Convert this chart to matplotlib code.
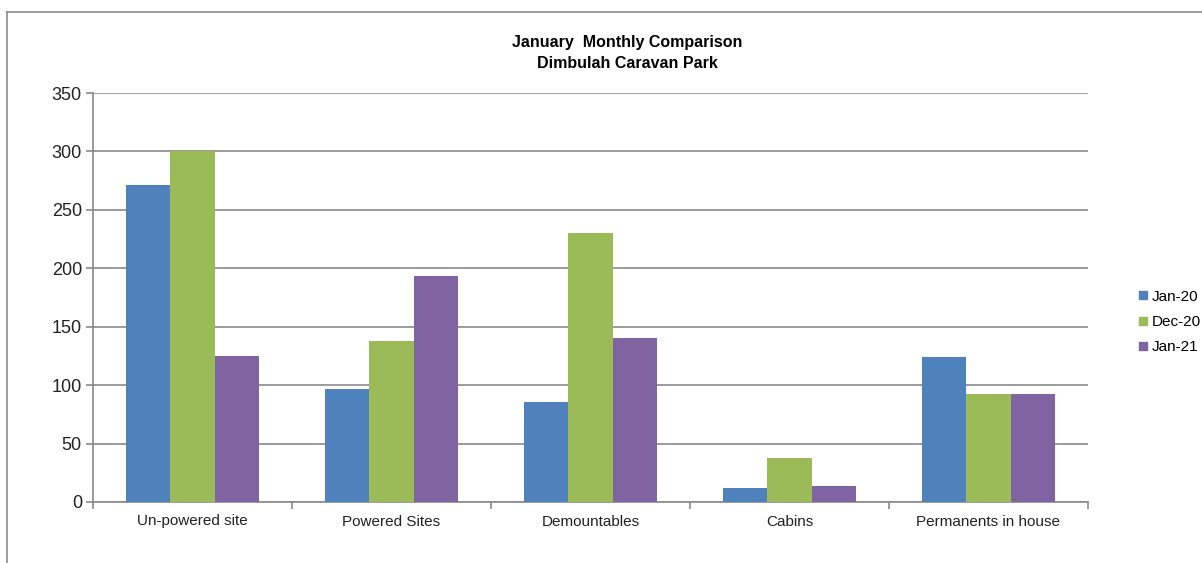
import matplotlib
matplotlib.use("Agg")
import matplotlib.pyplot as plt
from matplotlib.lines import Line2D
import numpy as np

categories = ["Un-powered site", "Powered Sites", "Demountables", "Cabins", "Permanents in house"]
series_names = ["Jan-20", "Dec-20", "Jan-21"]
jan20 = [271, 97, 86, 12, 124]
dec20 = [300, 138, 230, 38, 92]
jan21 = [125, 193, 140, 14, 92]
colors = ["#4F81BD", "#9BBB59", "#8064A2"]
yticks = [0, 50, 100, 150, 200, 250, 300, 350]

plt.rcParams['font.family'] = ['Liberation Sans', 'DejaVu Sans']

W, H = 1202, 563
fig = plt.figure(figsize=(W / 100, H / 100), dpi=100)
fig.patch.set_facecolor("white")

# outer chart border
fig.add_artist(Line2D([7 / W, 7 / W], [0, 1 - 12 / H], transform=fig.transFigure, color="#8c8c8c", lw=1.2))
fig.add_artist(Line2D([7 / W, 1], [1 - 12 / H, 1 - 12 / H], transform=fig.transFigure, color="#8c8c8c", lw=1.2))

ax = fig.add_axes([93 / W, 61 / H, (1088 - 93) / W, (502 - 93) / H])

x = np.arange(len(categories))
bw = 0.2233
for i, (vals, name) in enumerate(zip([jan20, dec20, jan21], series_names)):
    ax.bar(x + (i - 1) * bw, vals, width=bw, color=colors[i], label=name, zorder=3)

ax.set_xlim(-0.5, len(categories) - 0.5)
ax.set_ylim(0, 350)
ax.set_yticks(yticks)
ax.set_yticklabels([str(v) for v in yticks], fontsize=13, color="#222222")
ax.yaxis.grid(True, color="#8a8a8a", lw=1.2, zorder=0)
ax.set_axisbelow(True)

ax.set_xticks(x)
ax.set_xticklabels(categories, fontsize=11, color="#222222")
ax.tick_params(axis="x", length=0, pad=9)
ax.set_xticks(np.arange(-0.5, len(categories)), minor=True)
ax.tick_params(axis="x", which="minor", length=5, color="#8a8a8a", width=1.2)
ax.tick_params(axis="y", length=5, color="#8a8a8a", width=1.2, pad=3)

for s in ["top", "right"]:
    ax.spines[s].set_visible(False)
for s in ["left", "bottom"]:
    ax.spines[s].set_color("#8a8a8a")
    ax.spines[s].set_linewidth(1.2)

fig.text(627 / W, 1 - 42 / H, "January  Monthly Comparison", ha="center", va="center",
         fontsize=11.5, fontweight="bold")
fig.text(627 / W, 1 - 64 / H, "Dimbulah Caravan Park", ha="center", va="center",
         fontsize=11.5, fontweight="bold")

handles = [Line2D([], [], marker="s", ls="none", markersize=6, color=c) for c in colors]
fig.legend(handles, series_names, loc="center left", bbox_to_anchor=(1136 / W, 1 - 322 / H),
           frameon=False, fontsize=11, handletextpad=0.1, labelspacing=0.75, handlelength=0.9,
           borderaxespad=0, borderpad=0)

fig.savefig("out.png", dpi=100, facecolor="white")
